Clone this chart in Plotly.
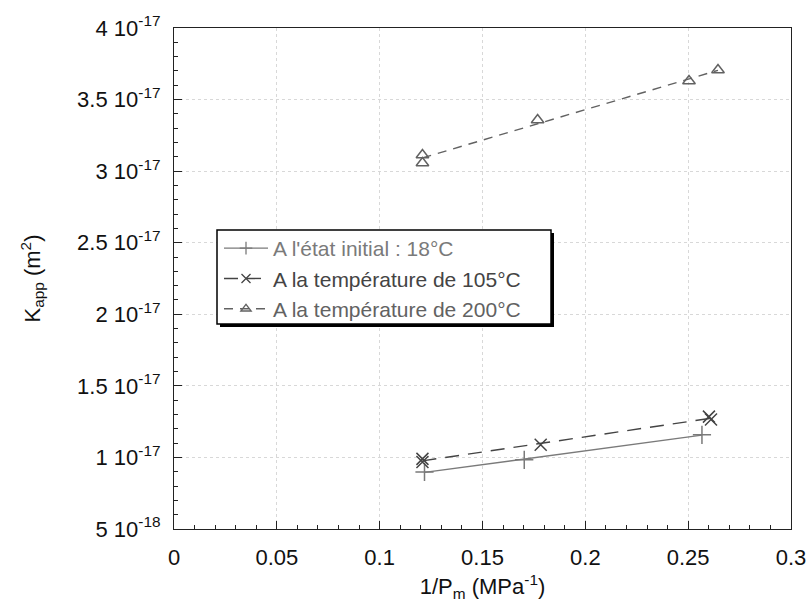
import numpy as np
import plotly.graph_objects as go

# Data (1/Pm in MPa^-1, Kapp in m^2)
x_18 = [0.1218, 0.1703, 0.2567]
y_18 = [0.899e-17, 0.983e-17, 1.158e-17]

x_105 = [0.1208, 0.1208, 0.1783, 0.2601, 0.2611]
y_105 = [0.990e-17, 0.968e-17, 1.088e-17, 1.285e-17, 1.265e-17]

x_200 = [0.1208, 0.1208, 0.1768, 0.2504, 0.2645]
y_200 = [3.057e-17, 3.113e-17, 3.357e-17, 3.630e-17, 3.707e-17]

names = ["A l'état initial : 18°C", "A la température de 105°C", "A la température de 200°C"]
colors = ["#7a7a7a", "#444444", "#626262"]
dashes = ["solid", "14px,9px", "9px,7px"]
symbols = ["cross-thin-open", "x-thin-open", "triangle-up-open"]
msizes = [13, 12, 11]

yticks = [5e-18, 1e-17, 1.5e-17, 2e-17, 2.5e-17, 3e-17, 3.5e-17, 4e-17]
yticklabels = ["5 10<sup>-18</sup>", "1 10<sup>-17</sup>", "1.5 10<sup>-17</sup>", "2 10<sup>-17</sup>",
               "2.5 10<sup>-17</sup>", "3 10<sup>-17</sup>", "3.5 10<sup>-17</sup>", "4 10<sup>-17</sup>"]
xticks = [0, 0.05, 0.1, 0.15, 0.2, 0.25, 0.3]
xticklabels = ["0", "0.05", "0.1", "0.15", "0.2", "0.25", "0.3"]

L, R, T, B = 174, 791, 28, 529
def px(v):
    return (v - L) / (R - L)
def py(v):
    return (B - v) / (B - T)

fig = go.Figure()
series = [(x_18, y_18), (x_105, y_105), (x_200, y_200)]
for i, (xs, ys) in enumerate(series):
    xs_a = np.array(xs); ys_a = np.array(ys)
    a, b = np.polyfit(xs_a, ys_a, 1)
    xf = np.array([xs_a.min(), xs_a.max()])
    fig.add_trace(go.Scatter(x=xf, y=a * xf + b, mode="lines", showlegend=False,
                             line=dict(color=colors[i], width=1.4, dash=dashes[i]),
                             hoverinfo="skip"))
    fig.add_trace(go.Scatter(x=xs, y=ys, mode="markers", showlegend=False,
                             marker=dict(symbol=symbols[i], size=msizes[i], color=colors[i],
                                         line=dict(color=colors[i], width=1.5))))
    fig.add_trace(go.Scatter(x=[None], y=[None], mode="lines+markers",
                             name=f"<span style='color:{colors[i]}'>{names[i]}</span>",
                             line=dict(color=colors[i], width=1.4, dash=dashes[i]),
                             marker=dict(symbol=symbols[i], size=9, color=colors[i],
                                         line=dict(color=colors[i], width=1.3))))

# legend box with drop shadow
fig.add_shape(type="rect", xref="paper", yref="paper",
              x0=px(220), x1=px(554), y0=py(327), y1=py(233),
              fillcolor="black", line=dict(width=0), layer="above")
fig.add_shape(type="rect", xref="paper", yref="paper",
              x0=px(217), x1=px(551), y0=py(324), y1=py(230),
              fillcolor="white", line=dict(width=1.5, color="black"), layer="above")

fig.update_layout(
    width=806, height=608,
    margin=dict(l=L, r=806 - R, t=T, b=608 - B),
    paper_bgcolor="white", plot_bgcolor="white",
    font=dict(family="Liberation Sans, Arial, sans-serif", size=22, color="#111111"),
    legend=dict(x=px(219), y=py(228), xanchor="left", yanchor="top",
                bgcolor="rgba(0,0,0,0)", borderwidth=0,
                font=dict(size=21), tracegroupgap=0, itemwidth=44),
    showlegend=True,
)
fig.update_xaxes(range=[0, 0.3], tickvals=xticks, ticktext=xticklabels,
                 tickfont=dict(size=22), automargin=False, ticklabeloverflow="allow",
                 showline=True, linecolor="#222222", linewidth=1.2, mirror=True,
                 ticks="inside", ticklen=8, tickcolor="#222222", ticklabelstandoff=8,
                 minor=dict(dtick=0.01, ticks="inside", ticklen=4, tickcolor="#222222", showgrid=False),
                 showgrid=True, gridcolor="#d8d8d8", griddash="dot", gridwidth=1,
                 zeroline=False,
                 title=dict(text="1/P<sub>m</sub> (MPa<sup>-1</sup>)", standoff=10, font=dict(size=22)))
fig.update_yaxes(range=[5e-18, 4e-17], tickvals=yticks, ticktext=yticklabels,
                 tickfont=dict(size=22), automargin=False, ticklabeloverflow="allow",
                 showline=True, linecolor="#222222", linewidth=1.2, mirror=True,
                 ticks="inside", ticklen=8, tickcolor="#222222", ticklabelstandoff=8,
                 minor=dict(dtick=1e-18, tick0=0, ticks="inside", ticklen=4, tickcolor="#222222", showgrid=False),
                 showgrid=True, gridcolor="#d8d8d8", griddash="dot", gridwidth=1,
                 zeroline=False,
                 title=dict(text="K<sub>app</sub> (m<sup>2</sup>)", standoff=30, font=dict(size=22)))

fig.write_html("out.html", config={"displayModeBar": False},
               post_script="document.body.style.margin='0';")
